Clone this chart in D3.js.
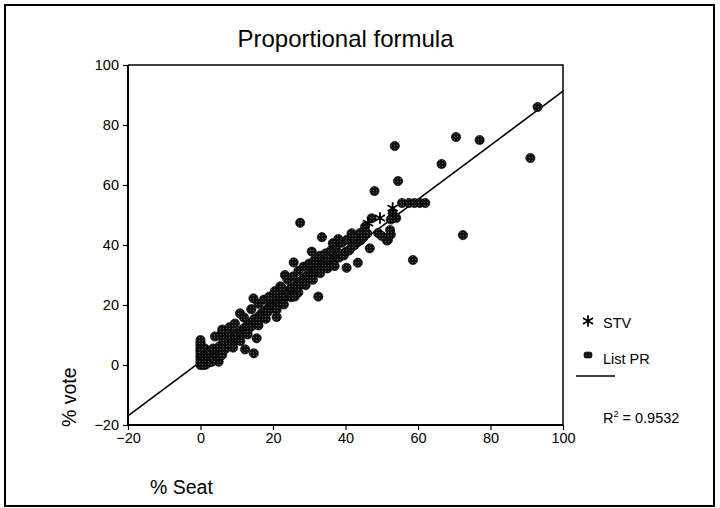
<!DOCTYPE html>
<html lang="en">
<head>
<meta charset="utf-8">
<script src="https://d3js.org/d3.v7.min.js"></script>
<style>
  body { margin: 0; background: #fff; }
  text { font-family: "Liberation Sans", Arial, sans-serif; fill: #000; }
</style>
</head>
<body>
<script>
// List PR points: [% seat, % vote]
const listPR = [
  [93, 86], [91, 69], [70.5, 76], [77, 75], [53.6, 73], [66.5, 67], [54.5, 61.3], [48, 58],
  [72.4, 43.3], [58.6, 35], [27.5, 47.4], [33.5, 42.6], [30.7, 37.8], [25.7, 34.2], [23.3, 30],
  [32.5, 22.8], [14.6, 22.2], [10.9, 17.2], [43.4, 34.1], [40.3, 32.4], [15.5, 8.9], [12.3, 5.2],
  [14.7, 3.9], [5.9, 10.6], [5, 1.1],
  [52.3, 45], [51.7, 41.7], [51.4, 41.5], [52.5, 43.5], [55.6, 54], [57.5, 54], [59, 54], [60.5, 54],
  [62, 54], [53, 50.5], [54, 49], [52.5, 48.5], [47.2, 48.9], [45.4, 46.1], [41.7, 43.9], [46.7, 38.9],
  [44, 44], [49, 44], [50, 43],
  [0, 0], [0, 0.8], [0, 1.5], [0, 2.3], [0, 3], [0, 3.8], [0, 4.5], [0, 5.2], [0, 6], [0, 6.8], [0, 7.5],
  [0, 8.3], [0.6, 0], [1.2, 0], [1.8, 0.4], [0.7, 1.2], [1.3, 2], [0.8, 3], [1.5, 3.6], [0.5, 4.8],
  [1.2, 5.5], [2, 1.5], [2.4, 2.6], [3, 1], [3.2, 3.4], [2.6, 4.4], [3.8, 2.2], [4.2, 3.8], [4.8, 4.5],
  [3.5, 5.5], [5.5, 3], [6, 5], [5.2, 6.2], [6.6, 6.8], [7, 5.5], [7.5, 7.5], [6.3, 8.2], [8, 6.8],
  [8.5, 8.5], [9, 7.5], [8.2, 9.8], [9.6, 9.2], [10, 10.6], [10.5, 8.8], [11, 11.2], [11.6, 10.4],
  [12, 12.3], [12.5, 11.5], [13, 13.2], [13.2, 12], [13.8, 14], [14.2, 13], [14.8, 15.3], [15.3, 14.2],
  [15.8, 16], [16.2, 15.2], [16.8, 17.2], [17.3, 16.5], [17.8, 18.2], [18.5, 17.6], [19, 19.4],
  [19.5, 18.8], [20, 20.5], [20.6, 19.8], [21, 21.5], [21.6, 20.8], [22, 22.5], [22.7, 21.8], [23, 23.6],
  [23.6, 23], [24, 24.6], [24.6, 23.8], [25, 25.6], [25.6, 25], [26.2, 26.5], [26.8, 25.8], [27.2, 27.6],
  [27.8, 27], [28.3, 28.7], [28.9, 28], [29.4, 29.8], [30, 29.2], [30.5, 30.8], [31.2, 30.3], [31.6, 31.8],
  [32.3, 31.2], [32.8, 33], [33.5, 32.4], [34, 34], [34.6, 33.4], [35.2, 35], [35.8, 34.4], [36.4, 35.8],
  [37, 35.2], [37.6, 36.4], [38.2, 35.8], [38.8, 37], [39.5, 36.5], [40.2, 37.8], [41, 38.2], [41.8, 39.4],
  [42.5, 40], [43.4, 41], [44.2, 41.6], [45, 42.6], [46, 43.8],
  [4, 9.5], [6, 11.8], [8, 12.6], [9.5, 13.8], [12, 15.8], [14, 18.6], [16, 20.4], [17.5, 21.8], [19, 22.8],
  [20.5, 24.6], [22, 26.2], [24, 28.4], [25.5, 29.5], [27, 31.4], [28.5, 32.8], [30, 33.8], [31.5, 35],
  [33, 36.4], [34.5, 37.2], [36, 38.2], [37.5, 39.6], [39, 40.8], [40.5, 41.8], [42, 42.6], [38, 42],
  [36.5, 40.6], [35, 35.5],
  [6, 3.4], [9, 5.8], [11, 8], [13, 10.2], [16, 13.2], [18, 15.4], [21, 18.4], [23, 20.2], [25, 22.6],
  [27, 24.2], [29, 26.6], [31, 28.4], [33, 30.6], [35, 32.2], [37, 33], [21, 16], [26, 22.8], [22.5, 25.5]
];
// STV points
const stv = [[53, 52.3], [46.2, 47.3], [49.5, 49]];

const xTicks = [-20, 0, 20, 40, 60, 80, 100];
const yTicks = [-20, 0, 20, 40, 60, 80, 100];
const fitIntercept = 1.1;
const fitSlope = 0.902;
const rSquared = "0.9532";

const W = 720, H = 508;
const mLeft = 128, mRight = 563, mTop = 65, mBottom = 425;

const svg = d3.select("body").append("svg").attr("width", W).attr("height", H);

// textured fill, like the printed marker glyph
const pat = svg.append("defs").append("pattern").attr("id", "tex")
  .attr("patternUnits", "userSpaceOnUse").attr("width", 3).attr("height", 3);
pat.append("rect").attr("width", 3).attr("height", 3).attr("fill", "#111");
pat.append("rect").attr("x", 1).attr("y", 1).attr("width", 1).attr("height", 1).attr("fill", "#555");

// outer frame
svg.append("rect").attr("x", 5).attr("y", 5).attr("width", 709).attr("height", 501)
  .attr("fill", "none").attr("stroke", "#000").attr("stroke-width", 2);

const x = d3.scaleLinear().domain([-20, 100]).range([mLeft, mRight]);
const y = d3.scaleLinear().domain([-20, 100]).range([mBottom, mTop]);

// plot box (top and right)
svg.append("path")
  .attr("d", `M${mLeft},${mTop}H${mRight}V${mBottom}`)
  .attr("fill", "none").attr("stroke", "#000").attr("stroke-width", 1.5);

const fmt = d => d < 0 ? "\u2212" + (-d) : d;
const xAxis = svg.append("g").attr("transform", `translate(0,${mBottom})`)
  .call(d3.axisBottom(x).tickValues(xTicks).tickSize(5).tickPadding(3).tickFormat(fmt));
const yAxis = svg.append("g").attr("transform", `translate(${mLeft},0)`)
  .call(d3.axisLeft(y).tickValues(yTicks).tickSize(5).tickPadding(4).tickFormat(fmt));
xAxis.select(".domain").attr("stroke-width", 2).attr("d", `M${mLeft},0H${mRight}`);
yAxis.select(".domain").attr("stroke-width", 2).attr("d", `M0,${mTop}V${mBottom}`);
[xAxis, yAxis].forEach(g => {
  g.selectAll(".tick line").attr("stroke-width", 1.2);
  g.selectAll(".tick text").style("font-size", "14.5px").style("font-family", "Liberation Sans, Arial, sans-serif");
});

// regression line
svg.append("line")
  .attr("x1", x(-20)).attr("y1", y(fitIntercept + fitSlope * -20))
  .attr("x2", x(100)).attr("y2", y(fitIntercept + fitSlope * 100))
  .attr("stroke", "#000").attr("stroke-width", 1.6);

// List PR markers
svg.append("g").selectAll("circle").data(listPR).join("circle")
  .attr("cx", d => x(d[0])).attr("cy", d => y(d[1])).attr("r", 4.6)
  .attr("fill", "url(#tex)").attr("stroke", "#000").attr("stroke-width", 0.7);

// STV markers
const star = d3.symbol(d3.symbolAsterisk, 95);
svg.append("g").selectAll("path").data(stv).join("path")
  .attr("transform", d => `translate(${x(d[0])},${y(d[1])})`)
  .attr("d", star).attr("fill", "none").attr("stroke", "#000").attr("stroke-width", 1.8);

// title and axis titles
svg.append("text").attr("x", (mLeft + mRight) / 2).attr("y", 47).attr("text-anchor", "middle")
  .style("font-size", "24px").text("Proportional formula");
svg.append("text").attr("x", 150).attr("y", 494).style("font-size", "19.5px").text("% Seat");
svg.append("text").attr("transform", "translate(76,427) rotate(-90)").style("font-size", "19.5px").text("% vote");

// legend
const lg = svg.append("g");
lg.append("path").attr("transform", "translate(588,321)").attr("d", star)
  .attr("fill", "none").attr("stroke", "#000").attr("stroke-width", 1.8);
lg.append("text").attr("x", 603).attr("y", 328).style("font-size", "14.5px").text("STV");
lg.append("rect").attr("x", 584).attr("y", 352).attr("width", 8).attr("height", 6).attr("rx", 2)
  .attr("fill", "url(#tex)").attr("stroke", "#000").attr("stroke-width", 0.6);
lg.append("text").attr("x", 603).attr("y", 364).style("font-size", "14.5px").text("List PR");
lg.append("line").attr("x1", 576).attr("x2", 615).attr("y1", 376).attr("y2", 376)
  .attr("stroke", "#000").attr("stroke-width", 1.6);
const r2 = lg.append("text").attr("x", 603).attr("y", 423).style("font-size", "14.5px");
r2.append("tspan").text("R");
r2.append("tspan").attr("dy", -6).style("font-size", "9px").text("2");
r2.append("tspan").attr("dy", 6).text(" = " + rSquared);
</script>
</body>
</html>
